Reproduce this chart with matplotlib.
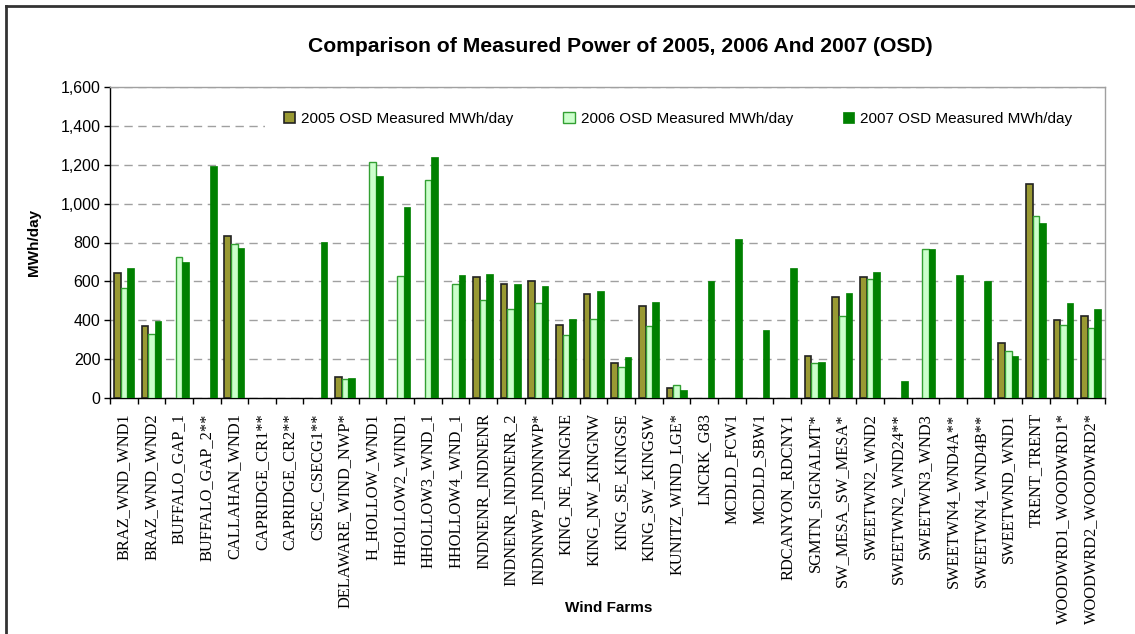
import numpy as np
import matplotlib
matplotlib.use("Agg")
import matplotlib.pyplot as plt
from matplotlib.lines import Line2D
from matplotlib.patches import Rectangle
from matplotlib.ticker import FuncFormatter, FixedLocator

nan = np.nan

# Wind farm names (x axis)
farms = [
    "BRAZ_WND_WND1", "BRAZ_WND_WND2", "BUFFALO_GAP_1", "BUFFALO_GAP_2**",
    "CALLAHAN_WND1", "CAPRIDGE_CR1**", "CAPRIDGE_CR2**", "CSEC_CSECG1**",
    "DELAWARE_WIND_NWP*", "H_HOLLOW_WND1", "HHOLLOW2_WIND1", "HHOLLOW3_WND_1",
    "HHOLLOW4_WND_1", "INDNENR_INDNENR", "INDNENR_INDNENR_2", "INDNNWP_INDNNWP*",
    "KING_NE_KINGNE", "KING_NW_KINGNW", "KING_SE_KINGSE", "KING_SW_KINGSW",
    "KUNITZ_WIND_LGE*", "LNCRK_G83", "MCDLD_FCW1", "MCDLD_SBW1",
    "RDCANYON_RDCNY1", "SGMTN_SIGNALMT*", "SW_MESA_SW_MESA*", "SWEETWN2_WND2",
    "SWEETWN2_WND24**", "SWEETWN3_WND3", "SWEETWN4_WND4A**", "SWEETWN4_WND4B**",
    "SWEETWND_WND1", "TRENT_TRENT", "WOODWRD1_WOODWRD1*", "WOODWRD2_WOODWRD2*",
]

# measured MWh/day per year (nan = no data)
mwh_2005 = [641, 368, nan, nan, 836, nan, nan, nan, 106, nan, nan, nan,
            nan, 624, 588, 602, 375, 533, 180, 475, 51, nan, nan, nan,
            nan, 218, 519, 624, nan, nan, nan, nan, 285, 1099, 399, 420]
mwh_2006 = [564, 327, 723, nan, 792, nan, nan, nan, 96, 1213, 626, 1121,
            586, 502, 458, 487, 322, 405, 158, 369, 65, nan, nan, nan,
            nan, 178, 420, 610, nan, 764, nan, nan, 240, 934, 374, 360]
mwh_2007 = [668, 398, 699, 1193, 771, nan, nan, 802, 103, 1141, 982, 1239,
            632, 638, 586, 576, 406, 550, 211, 495, 41, 602, 818, 350,
            668, 185, 540, 648, 87, 764, 632, 602, 216, 900, 489, 458]

series_names = ["2005 OSD Measured MWh/day", "2006 OSD Measured MWh/day",
                "2007 OSD Measured MWh/day"]

sans = "Liberation Sans"
serif = "Liberation Serif"

fig = plt.figure(figsize=(11.35, 6.34), dpi=100)
ax = fig.add_axes([110 / 1135, 1 - 398 / 634, 995 / 1135, 311 / 634])

x = np.arange(len(farms))
w = 0.24
ax.bar(x - w, mwh_2005, w, color="#999933", edgecolor="#222222", linewidth=1.2,
       label=series_names[0], zorder=3)
ax.bar(x, mwh_2006, w, color="#ccffcc", edgecolor="#33a033", linewidth=1.0,
       label=series_names[1], zorder=3)
ax.bar(x + w, mwh_2007, w, color="#008000", edgecolor="#008000", linewidth=0.5,
       label=series_names[2], zorder=3)

ax.set_xlim(-0.5, len(farms) - 0.5)
ax.set_ylim(0, 1600)
ax.set_yticks(np.arange(0, 1601, 200))
ax.yaxis.set_major_formatter(FuncFormatter(lambda v, p: f"{int(v):,}"))
ax.yaxis.grid(True, color="#a0a0a0", linestyle=(0, (6, 4)), linewidth=1.0, zorder=0)
ax.set_axisbelow(True)

# ticks between categories, labels at the centres
ax.xaxis.set_major_locator(FixedLocator(np.arange(-0.5, len(farms), 1.0)))
ax.xaxis.set_major_formatter(FuncFormatter(lambda v, p: ""))
ax.set_xticks(x, minor=True)
ax.set_xticklabels(farms, minor=True, rotation=90, fontfamily=serif, fontsize=11.8,
                   va="top", ha="center")
ax.tick_params(axis="x", which="major", direction="out", length=4, width=1, color="black")
ax.tick_params(axis="x", which="minor", length=0, pad=11)
ax.tick_params(axis="y", direction="out", length=4, width=1, labelsize=11.5, pad=3)
for lab in ax.get_yticklabels():
    lab.set_fontfamily(sans)

for s in ["left", "bottom"]:
    ax.spines[s].set_color("black")
    ax.spines[s].set_linewidth(1.0)
for s in ["top", "right"]:
    ax.spines[s].set_color("#a0a0a0")
    ax.spines[s].set_linewidth(1.0)

ax.set_ylabel("MWh/day", fontfamily=sans, fontweight="bold", fontsize=11, labelpad=14)
fig.text(609 / 1135, 1 - 608 / 634, "Wind Farms", ha="center", va="center",
         fontfamily=sans, fontweight="bold", fontsize=11)

# white box behind the legend hides the top gridline
ax.add_patch(Rectangle((0.156, 0.855), 0.844, 0.1, transform=ax.transAxes,
                       facecolor="white", edgecolor="none", zorder=1))

leg = ax.legend(loc="lower left", bbox_to_anchor=(0.170, 0.86, 0.802, 0.08),
                mode="expand", ncol=3, frameon=False,
                handlelength=0.75, handleheight=0.75, handletextpad=0.4,
                borderaxespad=0, borderpad=0.3, prop={"family": sans, "size": 11})
leg.set_zorder(5)

fig.text(620 / 1135, 1 - 47 / 634, "Comparison of Measured Power of 2005, 2006 And 2007 (OSD)",
         ha="center", va="center", fontfamily=sans, fontweight="bold", fontsize=15.2)

# outer chart border
fig.add_artist(Line2D([6 / 1135, 6 / 1135], [0, 1 - 6 / 634], transform=fig.transFigure,
                      color="#333333", linewidth=2))
fig.add_artist(Line2D([6 / 1135, 1], [1 - 6 / 634, 1 - 6 / 634], transform=fig.transFigure,
                      color="#333333", linewidth=2))

fig.savefig("out.png", dpi=100)
